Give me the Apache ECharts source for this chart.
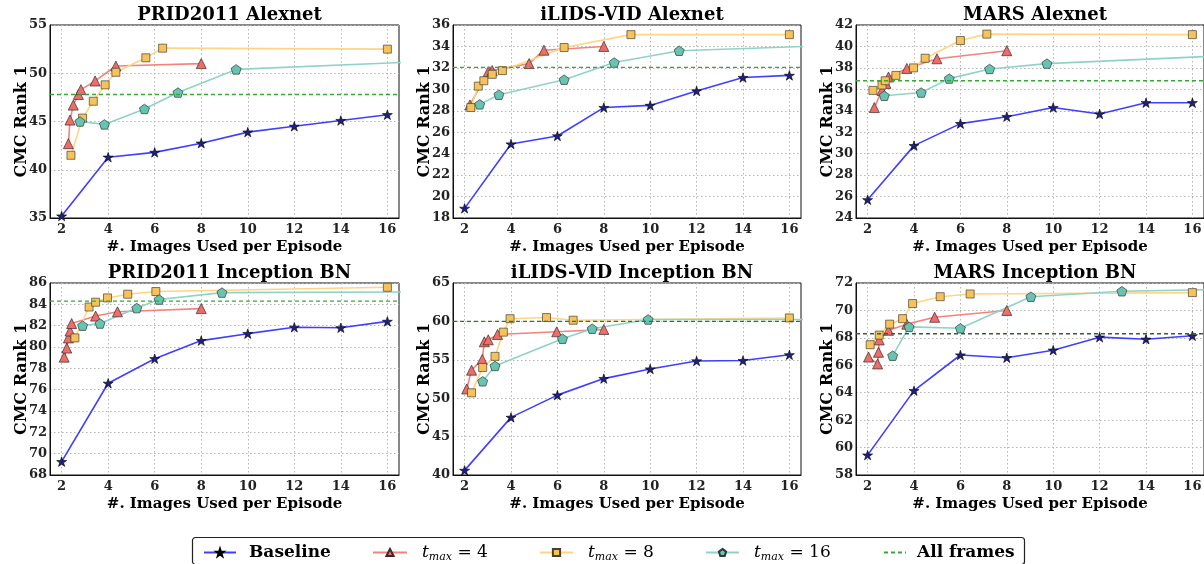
<!DOCTYPE html>
<html><head><meta charset="utf-8">
<script src="https://cdn.jsdelivr.net/npm/echarts@6/dist/echarts.min.js"></script>
<style>html,body{margin:0;padding:0;background:#fff}#c{width:1204px;height:564px}</style>
</head><body><div id="c"></div>
<script>
// ---------------- data ----------------
const titles = ['PRID2011 Alexnet','iLIDS-VID Alexnet','MARS Alexnet','PRID2011 Inception BN','iLIDS-VID Inception BN','MARS Inception BN'];
const xTickLabels = [2,4,6,8,10,12,14,16];
const yMin = [35,18,24,68,40,58];
const yMax = [55,36,42,86,65,72];
const yStep = [5,2,2,2,5,2];

const baselineX = [2,4,6,8,10,12,14,16];
const baselineY = [
  [35.2,41.3,41.8,42.75,43.9,44.5,45.1,45.7],
  [18.9,24.9,25.65,28.3,28.5,29.85,31.1,31.3],
  [25.7,30.75,32.8,33.45,34.3,33.7,34.75,34.75],
  [69.25,76.6,78.9,80.6,81.25,81.85,81.8,82.4],
  [40.6,47.5,50.4,52.55,53.8,54.85,54.9,55.65],
  [59.45,64.15,66.75,66.55,67.1,68.05,67.9,68.15]
];
const t4X = [
  [2.29,2.36,2.5,2.72,2.83,3.44,4.33,8],
  [2.23,3.02,3.19,4.78,5.42,8],
  [2.29,2.62,2.79,2.9,3.69,4.99,8],
  [2.11,2.22,2.29,2.36,2.43,3.46,4.4,8],
  [2.09,2.3,2.76,2.85,3.02,3.42,5.97,8],
  [2.04,2.43,2.47,2.5,2.9,3.69,4.89,8]
];
const t4Y = [
  [42.7,45.15,46.7,47.8,48.3,49.2,50.75,51.0],
  [28.55,31.65,31.75,32.4,33.65,34.0],
  [34.3,35.9,36.55,37.15,37.95,38.85,39.6],
  [79.05,79.9,80.85,81.5,82.2,82.9,83.3,83.6],
  [51.2,53.65,55.05,57.35,57.6,58.3,58.65,58.95],
  [66.6,66.1,66.95,67.85,68.55,69.0,69.5,70.0]
];
const t8X = [
  [2.4,2.9,3.36,3.87,4.33,5.62,6.34,16],
  [2.27,2.59,2.83,3.19,3.63,6.29,9.17,16],
  [2.23,2.62,2.76,3.22,3.98,4.48,6.0,7.14,16],
  [2.57,3.18,3.46,3.97,4.84,6.05,16],
  [2.3,2.78,3.31,3.67,3.96,5.53,6.68,16],
  [2.11,2.5,2.95,3.51,3.94,5.13,6.42,16]
];
const t8Y = [
  [41.5,45.35,47.1,48.8,50.1,51.6,52.6,52.5],
  [28.3,30.3,30.8,31.4,31.75,33.9,35.1,35.1],
  [35.9,36.4,36.8,37.3,38.0,38.9,40.55,41.15,41.1],
  [80.85,83.75,84.2,84.6,84.95,85.2,85.6],
  [50.7,54.0,55.45,58.6,60.35,60.5,60.15,60.45],
  [67.5,68.2,69.0,69.4,70.5,71.0,71.2,71.3]
];
const t16X = [
  [2.79,3.84,5.56,7.0,9.5,18],
  [2.65,3.48,6.29,8.45,11.25,18],
  [2.72,4.31,5.52,7.26,9.73,18],
  [2.9,3.65,5.23,6.19,8.89,18],
  [2.78,3.31,6.22,7.5,9.91,18],
  [3.08,3.79,6.0,9.04,12.96,18]
];
const t16Y = [
  [45.0,44.7,46.3,48.0,50.4,51.25],
  [28.6,29.5,30.9,32.5,33.6,34.1],
  [35.4,35.7,37.0,37.9,38.4,39.2],
  [82.0,82.2,83.65,84.45,85.1,85.17],
  [52.2,54.2,57.75,59.05,60.25,60.25],
  [66.7,68.8,68.7,71.0,71.4,71.55]
];
const allFramesY = [47.8,32.05,36.8,84.3,60.0,68.3];
const xRange = [1.5,16.5];

// ---------------- layout / style ----------------
const gridLeft = [50,453,856];
const gridWidth = [349,348,348];
const gridTop = [25,283];
const gridHeight = [193,192];
const dashColors = ['#33aa33','#33aa33','#33aa33','#33aa33','#2a7a2a','#3a5a3a'];
const FONT = 'DejaVu Serif';
const STAR = 'path://M100,0 L122.45,69.1 L195.11,69.1 L136.33,111.8 L158.78,180.9 L100,138.2 L41.22,180.9 L63.67,111.8 L4.89,69.1 L77.55,69.1 Z';
const PENT = 'path://M100,0 L195.11,69.1 L158.78,180.9 L41.22,180.9 L4.89,69.1 Z';

const NAMES = {b:'Baseline', t4:'t4', t8:'t8', t16:'t16', af:'All frames'};

const grids=[], xAxes=[], yAxes=[], series=[], titleArr=[];
function pts(xs, ys){ return xs.map((x,k)=>[x, ys[k]]); }

for (let i=0;i<6;i++){
  const col=i%3, row=Math.floor(i/3);
  grids.push({left:gridLeft[col], top:gridTop[row], width:gridWidth[col], height:gridHeight[row],
    show:true, borderColor:'#111', borderWidth:1, outerBoundsMode:'none'});
  titleArr.push({text:titles[i], left:gridLeft[col]+gridWidth[col]/2, top:gridTop[row]-24, textAlign:'center',
    textStyle:{fontFamily:FONT, fontWeight:'bold', fontSize:18, color:'#000'}});
  xAxes.push({type:'value', gridIndex:i, min:xRange[0], max:xRange[1],
    name:'#. Images Used per Episode', nameLocation:'middle', nameGap:22, nameMoveOverlap:false,
    nameTextStyle:{fontFamily:FONT, fontWeight:'bold', fontSize:15, color:'#000'},
    axisLine:{show:true, lineStyle:{color:'#111', width:1}},
    axisTick:{show:false, customValues:xTickLabels},
    splitLine:{show:true, customValues:xTickLabels, lineStyle:{color:'#b5b5b5', type:[1.5,2.5], width:1}},
    axisLabel:{customValues:xTickLabels, margin:5, fontFamily:FONT, fontWeight:'bold', fontSize:13, color:'#222'}});
  yAxes.push({type:'value', gridIndex:i, min:yMin[i], max:yMax[i], interval:yStep[i],
    name:'CMC Rank 1', nameLocation:'middle', nameGap:20, nameMoveOverlap:false,
    nameTextStyle:{fontFamily:FONT, fontWeight:'bold', fontSize:16, color:'#000'},
    axisLine:{show:true, lineStyle:{color:'#111', width:1}},
    axisTick:{show:false},
    splitLine:{show:true, lineStyle:{color:'#b5b5b5', type:[1.5,2.5], width:1}},
    axisLabel:{margin:3, fontFamily:FONT, fontWeight:'bold', fontSize:13, color:'#222'}});
  const common = {type:'line', xAxisIndex:i, yAxisIndex:i, clip:true, animation:false, symbolKeepAspect:true};
  series.push(Object.assign({}, common, {name:NAMES.b, data:pts(baselineX, baselineY[i]),
    symbol:STAR, symbolSize:10, lineStyle:{color:'#3f3fff', width:1.6},
    itemStyle:{color:'#20207e', borderColor:'#000', borderWidth:0.6}, z:2}));
  series.push(Object.assign({}, common, {name:NAMES.t4, data:pts(t4X[i], t4Y[i]),
    symbol:'triangle', symbolSize:10, lineStyle:{color:'#f4837d', width:1.6},
    itemStyle:{color:'#ee6d68', borderColor:'#3a2a2a', borderWidth:0.7}, z:3}));
  series.push(Object.assign({}, common, {name:NAMES.t8, data:pts(t8X[i], t8Y[i]),
    symbol:'rect', symbolSize:8, lineStyle:{color:'#fdd584', width:1.6},
    itemStyle:{color:'#f6c35b', borderColor:'#4a4030', borderWidth:0.7}, z:3}));
  series.push(Object.assign({}, common, {name:NAMES.t16, data:pts(t16X[i], t16Y[i]),
    symbol:PENT, symbolSize:10, lineStyle:{color:'#8fd3c6', width:1.6},
    itemStyle:{color:'#66c4b1', borderColor:'#2a3a38', borderWidth:0.7}, z:3}));
  series.push(Object.assign({}, common, {name:NAMES.af, data:[[xRange[0], allFramesY[i]],[xRange[1], allFramesY[i]]],
    symbol:'none', lineStyle:{color:dashColors[i], width:1.4, type:[4,3]}, itemStyle:{color:dashColors[i]}, z:4}));
}

const legRich = {
  t:{fontFamily:FONT, fontStyle:'italic', fontWeight:'normal', fontSize:17, color:'#000'},
  s:{fontFamily:FONT, fontStyle:'italic', fontWeight:'normal', fontSize:11, color:'#000', padding:[9,0,0,0]},
  e:{fontFamily:FONT, fontWeight:'normal', fontSize:17, color:'#000'}
};
function legendItem(name, left, width, label, pad, extra){
  return Object.assign({data:[name], left:left, top:539, itemWidth:width, itemHeight:9, orient:'horizontal',
    selectedMode:false,
    formatter: label,
    textStyle:{fontFamily:FONT, fontWeight:'bold', fontSize:17, color:'#000', padding:[0,0,0,pad], rich:legRich}}, extra||{});
}
const legends = [
  legendItem(NAMES.b, 198, 32, 'Baseline', 8),
  legendItem(NAMES.t4, 367, 34, '{t|t}{s|max}{e| = 4}', 10),
  legendItem(NAMES.t8, 534, 33, '{t|t}{s|max}{e| = 8}', 10),
  legendItem(NAMES.t16, 700, 33, '{t|t}{s|max}{e| = 16}', 10),
  legendItem(NAMES.af, 878, 22, 'All frames', 6, {itemStyle:{opacity:0}})
];

const chart = echarts.init(document.getElementById('c'), null, {renderer:'canvas'});
chart.setOption({
  backgroundColor:'#fff',
  animation:false,
  title:titleArr,
  grid:grids, xAxis:xAxes, yAxis:yAxes, series:series,
  legend:legends,
  graphic:[{type:'rect', left:190, top:535, shape:{width:832, height:27, r:3}, silent:true,
    style:{fill:'none', stroke:'#222', lineWidth:1.2}, z:-1}]
});
</script></body></html>
